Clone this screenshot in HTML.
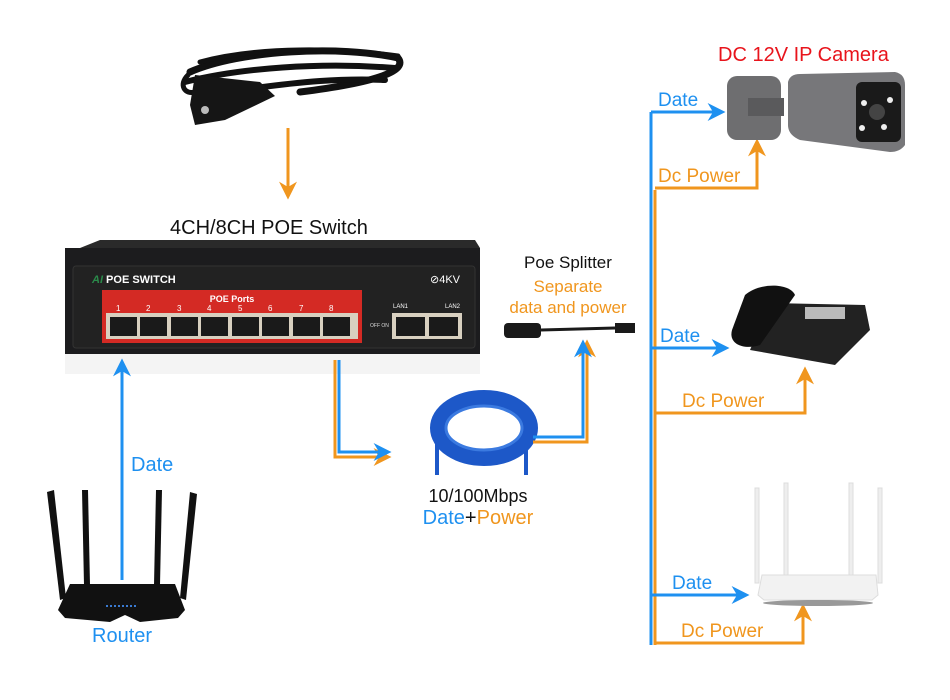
<!DOCTYPE html>
<html><head><meta charset="utf-8"><style>
html,body{margin:0;padding:0;background:#fff;}
svg{display:block;font-family:"Liberation Sans",Arial,sans-serif;}
</style></head><body>
<svg width="950" height="700" viewBox="0 0 950 700" xmlns="http://www.w3.org/2000/svg">
<defs>
<marker id="ab" viewBox="0 0 10 10" refX="8" refY="5" markerWidth="6" markerHeight="6" orient="auto"><path d="M0,0 L10,5 L0,10 L3,5 z" fill="#1e90f0"/></marker>
<marker id="ao" viewBox="0 0 10 10" refX="8" refY="5" markerWidth="6" markerHeight="6" orient="auto"><path d="M0,0 L10,5 L0,10 L3,5 z" fill="#f0961e"/></marker>
</defs>
<rect width="950" height="700" fill="#fff"/>

<!-- power cord -->
<g fill="none" stroke="#111" stroke-linecap="round">
<path d="M190,72 C240,50 340,45 398,58 C408,70 380,82 300,92" stroke-width="7"/>
<path d="M185,82 C240,68 320,62 395,68" stroke-width="6"/>
<path d="M200,62 C260,46 340,48 398,56" stroke-width="5"/>
<path d="M255,88 C300,82 340,78 385,80" stroke-width="6"/>
<path d="M188,75 C178,85 185,95 195,92" stroke-width="5"/>
</g>
<path d="M195,75 L260,82 L275,96 L225,120 L195,125 L190,105 Z" fill="#151515"/>
<circle cx="205" cy="110" r="4" fill="#bbb"/>
<line x1="288" y1="128" x2="288" y2="196" stroke="#f0961e" stroke-width="3" marker-end="url(#ao)"/>
<text x="170" y="234" font-size="20" fill="#111">4CH/8CH POE Switch</text>

<!-- switch -->
<path d="M80,248 L100,240 L475,240 L480,248 Z" fill="#2a2a2a"/>
<rect x="65" y="248" width="415" height="106" fill="#1c1c1e"/>
<rect x="73" y="266" width="402" height="82" rx="3" fill="#222" stroke="#333"/>
<text x="92" y="283" font-size="11" font-weight="bold" fill="#fff"><tspan fill="#2a8a4a" font-style="italic">AI</tspan> POE SWITCH</text>
<text x="430" y="283" font-size="11" fill="#fff">⊘4KV</text>
<rect x="102" y="290" width="260" height="53" fill="#d42a24"/>
<text x="232" y="302" font-size="9" font-weight="bold" fill="#fff" text-anchor="middle">POE Ports</text>
<g font-size="8" fill="#fff">
<text x="116" y="311">1</text><text x="146" y="311">2</text><text x="177" y="311">3</text><text x="207" y="311">4</text><text x="238" y="311">5</text><text x="268" y="311">6</text><text x="299" y="311">7</text><text x="329" y="311">8</text>
</g>
<rect x="106" y="313" width="252" height="26" fill="#d8d0c0"/>
<g fill="#1a1a1a">
<rect x="110" y="317" width="27" height="19"/><rect x="140" y="317" width="27" height="19"/><rect x="171" y="317" width="27" height="19"/><rect x="201" y="317" width="27" height="19"/><rect x="232" y="317" width="27" height="19"/><rect x="262" y="317" width="27" height="19"/><rect x="293" y="317" width="27" height="19"/><rect x="323" y="317" width="27" height="19"/>
</g>
<text x="370" y="327" font-size="5" fill="#ddd">OFF ON</text>
<text x="393" y="308" font-size="6" fill="#fff">LAN1</text><text x="445" y="308" font-size="6" fill="#fff">LAN2</text>
<rect x="392" y="313" width="70" height="26" fill="#d8d0c0"/>
<rect x="396" y="317" width="29" height="19" fill="#1a1a1a"/><rect x="429" y="317" width="29" height="19" fill="#1a1a1a"/>
<rect x="65" y="354" width="415" height="20" fill="#f4f4f4"/>

<!-- router left -->
<g fill="#111">
<polygon points="47,492 54,490 66,598 60,600"/>
<polygon points="82,490 88,490 90,585 84,585"/>
<polygon points="156,490 162,490 160,585 154,585"/>
<polygon points="190,492 197,494 186,600 180,598"/>
<path d="M70,584 L175,584 L185,610 L178,618 L140,622 L125,615 L110,622 L65,618 L58,610 Z"/>
</g>
<g fill="#3a7ad0"><rect x="106" y="605" width="2" height="2"/><rect x="110" y="605" width="2" height="2"/><rect x="114" y="605" width="2" height="2"/><rect x="118" y="605" width="2" height="2"/><rect x="122" y="605" width="2" height="2"/><rect x="126" y="605" width="2" height="2"/><rect x="130" y="605" width="2" height="2"/><rect x="134" y="605" width="2" height="2"/></g>
<line x1="122" y1="580" x2="122" y2="362" stroke="#1e90f0" stroke-width="3" marker-end="url(#ab)"/>
<text x="131" y="471" font-size="20" fill="#1e90f0">Date</text>
<text x="92" y="642" font-size="20" fill="#1e90f0">Router</text>

<!-- switch to cable -->
<path d="M335,360 L335,457 L388,457" fill="none" stroke="#f0961e" stroke-width="3" marker-end="url(#ao)"/>
<path d="M339,360 L339,452 L388,452" fill="none" stroke="#1e90f0" stroke-width="3" marker-end="url(#ab)"/>

<!-- cable coil -->
<g fill="none" stroke="#1d58c8">
<ellipse cx="484" cy="428" rx="46" ry="30" stroke-width="16"/>
<ellipse cx="484" cy="428" rx="38" ry="22" stroke-width="3" stroke="#3b7ae0"/>
</g>
<line x1="437" y1="440" x2="437" y2="475" stroke="#1d58c8" stroke-width="4"/>
<line x1="526" y1="440" x2="526" y2="475" stroke="#1d58c8" stroke-width="4"/>
<text x="478" y="502" font-size="18" fill="#111" text-anchor="middle">10/100Mbps</text>
<text x="478" y="524" font-size="20" text-anchor="middle"><tspan fill="#1e90f0">Date</tspan><tspan fill="#111">+</tspan><tspan fill="#f0961e">Power</tspan></text>

<!-- cable to splitter -->
<path d="M533,442 L587,442 L587,343" fill="none" stroke="#f0961e" stroke-width="3" marker-end="url(#ao)"/>
<path d="M533,437 L583,437 L583,343" fill="none" stroke="#1e90f0" stroke-width="3" marker-end="url(#ab)"/>

<!-- splitter -->
<text x="568" y="268" font-size="17" fill="#111" text-anchor="middle">Poe Splitter</text>
<text x="568" y="292" font-size="17" fill="#f0961e" text-anchor="middle">Separate</text>
<text x="568" y="313" font-size="17" fill="#f0961e" text-anchor="middle">data and power</text>
<rect x="504" y="323" width="37" height="15" rx="4" fill="#1a1a1a"/>
<path d="M541,330 L615,328" stroke="#1a1a1a" stroke-width="3"/>
<rect x="615" y="323" width="20" height="10" fill="#1a1a1a"/>

<!-- trunk -->
<line x1="651" y1="112" x2="651" y2="645" stroke="#1e90f0" stroke-width="3"/>
<line x1="655" y1="190" x2="655" y2="645" stroke="#f0961e" stroke-width="3"/>
<!-- camera -->
<line x1="651" y1="112" x2="722" y2="112" stroke="#1e90f0" stroke-width="3" marker-end="url(#ab)"/>
<path d="M655,188 L757,188 L757,142" fill="none" stroke="#f0961e" stroke-width="3" marker-end="url(#ao)"/>
<text x="658" y="106" font-size="19" fill="#1e90f0">Date</text>
<text x="658" y="182" font-size="19" fill="#f0961e">Dc Power</text>
<text x="718" y="61" font-size="20" fill="#e8141c">DC 12V IP Camera</text>
<rect x="727" y="76" width="54" height="64" rx="10" fill="#6e6e70"/>
<rect x="748" y="98" width="36" height="18" fill="#5a5a5c"/>
<path d="M788,82 Q790,74 800,74 L895,72 Q905,74 905,85 L905,145 Q900,152 890,152 L800,140 Q788,135 788,125 Z" fill="#77777a"/>
<rect x="856" y="82" width="45" height="60" rx="6" fill="#1a1a1a"/>
<circle cx="877" cy="112" r="8" fill="#444"/>
<circle cx="864" cy="103" r="3" fill="#eee"/><circle cx="890" cy="100" r="3" fill="#eee"/><circle cx="862" cy="128" r="3" fill="#eee"/><circle cx="884" cy="127" r="3" fill="#eee"/>

<!-- phone -->
<line x1="651" y1="348" x2="726" y2="348" stroke="#1e90f0" stroke-width="3" marker-end="url(#ab)"/>
<path d="M655,413 L805,413 L805,370" fill="none" stroke="#f0961e" stroke-width="3" marker-end="url(#ao)"/>
<text x="660" y="342" font-size="19" fill="#1e90f0">Date</text>
<text x="682" y="407" font-size="19" fill="#f0961e">Dc Power</text>
<path d="M770,303 L865,305 L870,330 L835,365 L750,350 Z" fill="#222"/>
<path d="M745,295 C760,282 790,283 795,295 L760,345 C745,350 728,345 732,330 Z" fill="#111"/>
<rect x="805" y="307" width="40" height="12" fill="#bbb"/>

<!-- router right -->
<line x1="651" y1="595" x2="746" y2="595" stroke="#1e90f0" stroke-width="3" marker-end="url(#ab)"/>
<path d="M655,643 L803,643 L803,607" fill="none" stroke="#f0961e" stroke-width="3" marker-end="url(#ao)"/>
<text x="672" y="589" font-size="19" fill="#1e90f0">Date</text>
<text x="681" y="637" font-size="19" fill="#f0961e">Dc Power</text>
<g fill="#eee" stroke="#ddd"><rect x="755" y="488" width="4" height="95"/><rect x="784" y="483" width="4" height="95"/><rect x="849" y="483" width="4" height="95"/><rect x="878" y="488" width="4" height="95"/></g>
<path d="M762,575 L876,575 L878,595 L872,600 L764,600 L758,595 Z" fill="#f2f2f2" stroke="#ddd"/>
<ellipse cx="818" cy="603" rx="55" ry="3" fill="#999"/>
</svg>
</body></html>
